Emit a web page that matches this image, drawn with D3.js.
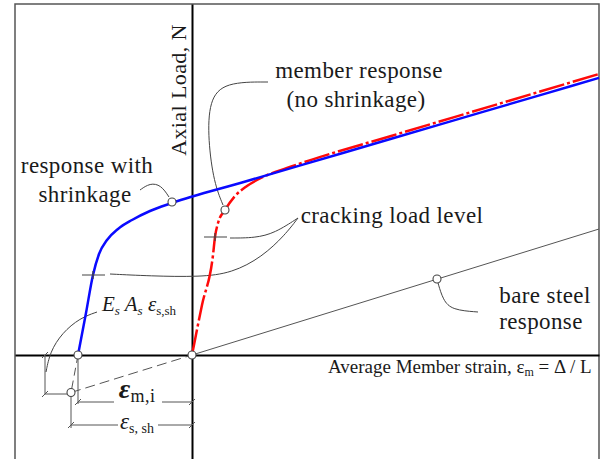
<!DOCTYPE html>
<html>
<head>
<meta charset="utf-8">
<script src="https://cdn.jsdelivr.net/npm/d3@7"></script>
<style>
  body { margin: 0; background: #fff; }
  svg { display: block; font-family: "Liberation Serif", "Times New Roman", serif; }
  .label { fill: #1a1a1a; font-size: 23px; letter-spacing: 0.4px; }
  .leader { fill: none; stroke: #444; stroke-width: 1; }
  .marker { fill: #fff; stroke: #444; stroke-width: 1.1; }
  .dim { fill: none; stroke: #555; stroke-width: 1; }
</style>
</head>
<body>
<svg id="chart" width="600" height="459"></svg>
<script>
// strain (arbitrary units) vs axial load (arbitrary units), schematic
var blueResponse = [
  [-1.14, 0], [-1.06, 0.42], [-0.99, 0.80], [-0.93, 1.01], [-0.85, 1.15],
  [-0.74, 1.26], [-0.60, 1.35], [-0.42, 1.44], [-0.20, 1.52], [0.50, 1.725],
  [1.50, 2.018], [2.50, 2.311], [3.50, 2.604], [4.07, 2.771]
];
var redResponse = [
  [0, 0], [0.10, 0.50], [0.21, 1.00], [0.23, 1.18], [0.26, 1.32], [0.33, 1.45],
  [0.43, 1.59], [0.55, 1.69], [0.70, 1.775], [0.95, 1.87], [1.20, 1.954],
  [2.00, 2.193], [3.00, 2.491], [4.07, 2.81]
];
var bareSteel = [[0, 0], [4.07, 1.26]];
var bareSteelExt = [[-1.21, -0.375], [0, 0]];
var shrinkDrop = [[-1.14, 0], [-1.21, -0.375]];

var circlePoints = [
  [-1.14, 0], [0, 0], [-1.21, -0.375], [-0.20, 1.53], [0.33, 1.45], [2.45, 0.76]
];
var crackPoints = [[-0.99, 0.80], [0.23, 1.18]];

// leader lines (data units)
var leaderMember = [[0.76, 2.73], [0.33, 2.73], [0.17, 2.55], [0.16, 2.15], [0.22, 1.72], [0.31, 1.50]];
var leaderShrink = [[-0.52, 1.65], [-0.42, 1.72], [-0.31, 1.70], [-0.23, 1.58]];
var leaderCrackA = [[1.06, 1.37], [0.83, 1.22], [0.63, 1.17], [0.38, 1.17]];
var leaderCrackB = [[1.06, 1.37], [0.93, 1.20], [0.70, 0.98], [0.40, 0.82], [0.08, 0.78], [-0.42, 0.79], [-0.82, 0.81]];
var leaderEs = [[-0.95, 0.43], [-1.12, 0.37], [-1.30, 0.22], [-1.42, 0.03], [-1.46, -0.17]];
var leaderSteel = [[2.46, 0.72], [2.51, 0.55], [2.60, 0.45], [2.86, 0.43]];

var xDomain = [-1.77, 4.07];
var yDomain = [-1.04, 3.51];

var svg = d3.select('#chart');
var x = d3.scaleLinear().domain(xDomain).range([15, 599]);
var y = d3.scaleLinear().domain(yDomain).range([459, 4]);

var line = d3.line()
  .x(function (d) { return x(d[0]); })
  .y(function (d) { return y(d[1]); });
var smooth = d3.line()
  .x(function (d) { return x(d[0]); })
  .y(function (d) { return y(d[1]); })
  .curve(d3.curveMonotoneX);
var leader = d3.line()
  .x(function (d) { return x(d[0]); })
  .y(function (d) { return y(d[1]); })
  .curve(d3.curveBasis);

// frame
svg.append('rect')
  .attr('x', 15).attr('y', 4)
  .attr('width', 584).attr('height', 480)
  .attr('fill', 'none').attr('stroke', '#555').attr('stroke-width', 1.5);

// axes through origin, no ticks
svg.append('g')
  .attr('transform', 'translate(0,' + y(0) + ')')
  .call(d3.axisBottom(x).ticks(0).tickSizeOuter(0))
  .select('.domain').attr('stroke', '#000').attr('stroke-width', 2);
svg.append('g')
  .attr('transform', 'translate(' + x(0) + ',0)')
  .call(d3.axisLeft(y).ticks(0).tickSizeOuter(0))
  .select('.domain').attr('stroke', '#000').attr('stroke-width', 2);

// bare steel
svg.append('path').attr('d', line(bareSteel))
  .attr('fill', 'none').attr('stroke', '#555').attr('stroke-width', 1);
svg.append('path').attr('d', line(bareSteelExt))
  .attr('fill', 'none').attr('stroke', '#555').attr('stroke-width', 1)
  .attr('stroke-dasharray', '10,5');
svg.append('path').attr('d', line(shrinkDrop))
  .attr('fill', 'none').attr('stroke', '#555').attr('stroke-width', 1)
  .attr('stroke-dasharray', '8,5');

// dimension lines
var dims = svg.append('g').attr('class', 'dim');
function seg(a, b) {
  dims.append('path').attr('d', line([a, b]));
}
function slash(p) {
  var px = x(p[0]), py = y(p[1]);
  dims.append('path').attr('d', 'M' + (px - 3) + ',' + (py + 3) + 'L' + (px + 3) + ',' + (py - 3));
}
seg([-1.47, 0], [-1.47, -0.39]);
seg([-1.47, -0.39], [-1.25, -0.39]);
slash([-1.47, 0]); slash([-1.47, -0.39]);
seg([-1.14, -0.04], [-1.14, -0.49]);
seg([-1.21, -0.42], [-1.21, -0.73]);
seg([-1.14, -0.47], [0, -0.47]);
slash([-1.14, -0.47]); slash([0, -0.47]);
seg([-1.21, -0.70], [0, -0.70]);
slash([-1.21, -0.70]); slash([0, -0.70]);

// leader lines
[leaderMember, leaderShrink, leaderCrackA, leaderCrackB, leaderEs, leaderSteel].forEach(function (l) {
  svg.append('path').attr('class', 'leader').attr('d', leader(l));
});

// responses
svg.append('path').attr('d', smooth(redResponse))
  .attr('fill', 'none').attr('stroke', '#ff0a0a').attr('stroke-width', 2.5)
  .attr('stroke-dasharray', '26,3,3,3');
svg.append('path').attr('d', smooth(blueResponse))
  .attr('fill', 'none').attr('stroke', '#0a0aff').attr('stroke-width', 2.5);

// cracking marks
crackPoints.forEach(function (p) {
  var px = x(p[0]), py = y(p[1]);
  svg.append('path')
    .attr('d', 'M' + (px - 11) + ',' + py + 'H' + (px + 12) + 'M' + px + ',' + (py - 4) + 'V' + (py + 4))
    .attr('stroke', '#444').attr('stroke-width', 1.2);
});

// circle markers
svg.selectAll('circle.marker')
  .data(circlePoints)
  .enter().append('circle')
  .attr('class', 'marker')
  .attr('cx', function (d) { return x(d[0]); })
  .attr('cy', function (d) { return y(d[1]); })
  .attr('r', 4);

// text labels
function label(txt, tx, ty, anchor) {
  return svg.append('text').attr('class', 'label')
    .attr('x', tx).attr('y', ty)
    .attr('text-anchor', anchor || 'start')
    .text(txt);
}
label('member response', 359, 78, 'middle');
label('(no shrinkage)', 356, 107, 'middle');
label('response with', 87, 173, 'middle');
label('shrinkage', 85, 202, 'middle');
label('cracking load level', 392, 223, 'middle');
label('bare steel', 545, 303, 'middle');
label('response', 541, 329, 'middle');

svg.append('text').attr('class', 'label')
  .attr('transform', 'translate(186,90) rotate(-90)')
  .attr('text-anchor', 'middle')
  .style('font-size', '22px')
  .text('Axial Load, N');

// x axis title
var xt = svg.append('text').attr('class', 'label')
  .attr('x', 328).attr('y', 373)
  .style('font-size', '19px').style('letter-spacing', '0px');
xt.append('tspan').text('Average Member strain, ε');
xt.append('tspan').attr('dy', 3).style('font-size', '12px').text('m');
xt.append('tspan').attr('dy', -3).text(' = Δ / L');

// Es As eps_s,sh
var es = svg.append('text').attr('class', 'label').attr('x', 102).attr('y', 311)
  .style('letter-spacing', '0px').style('font-size', '21px');
es.append('tspan').style('font-style', 'italic').text('E');
es.append('tspan').attr('dy', 4).style('font-style', 'italic').style('font-size', '13px').text('s');
es.append('tspan').attr('dy', -4).style('font-style', 'italic').text(' A');
es.append('tspan').attr('dy', 4).style('font-style', 'italic').style('font-size', '13px').text('s');
es.append('tspan').attr('dy', -4).style('font-style', 'italic').text(' ε');
es.append('tspan').attr('dy', 4).style('font-size', '13px').text('s,sh');

// eps_m,i
svg.append('rect').attr('x', 114).attr('y', 382).attr('width', 48).attr('height', 26).attr('fill', '#fff');
var em = svg.append('text').attr('class', 'label').attr('x', 137).attr('y', 398).attr('text-anchor', 'middle');
em.append('tspan').style('font-style', 'italic').style('font-weight', 'bold').style('font-size', '28px').text('ε');
em.append('tspan').attr('dy', 4).style('font-size', '18px').text('m,i');

// eps_s,sh
svg.append('rect').attr('x', 118).attr('y', 414).attr('width', 40).attr('height', 22).attr('fill', '#fff');
var ess = svg.append('text').attr('class', 'label').attr('x', 137).attr('y', 429).attr('text-anchor', 'middle').style('letter-spacing', '0px');
ess.append('tspan').style('font-style', 'italic').text('ε');
ess.append('tspan').attr('dy', 4).style('font-size', '14px').text('s, sh');
</script>
</body>
</html>
